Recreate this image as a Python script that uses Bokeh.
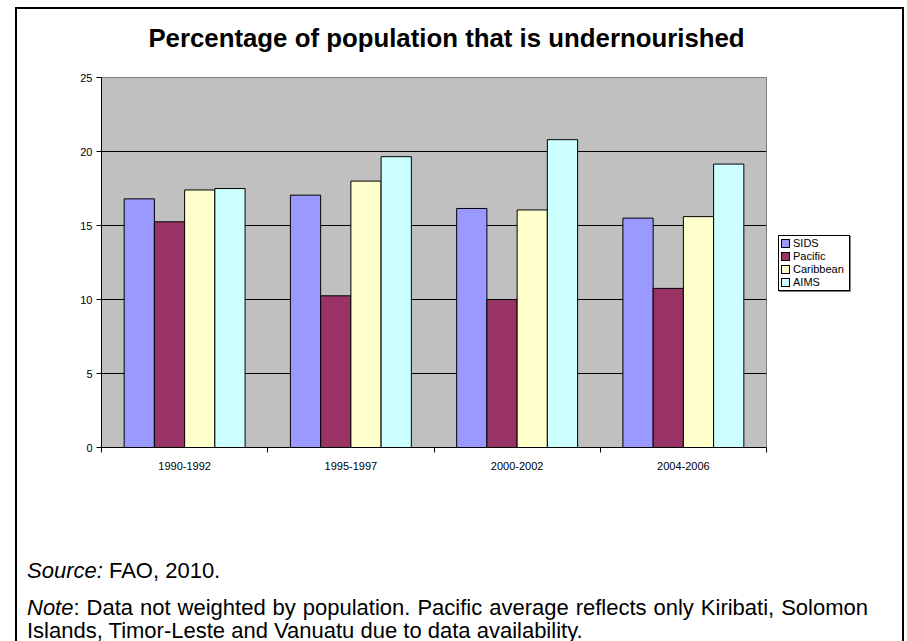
import numpy as np
from bokeh.plotting import figure
from bokeh.layouts import column, row
from bokeh.models import (ColumnDataSource, Range1d, FixedTicker, Div)
from bokeh.transform import dodge
from bokeh.embed import file_html
from bokeh.resources import INLINE

# ---- data ----
periods = ["1990-1992", "1995-1997", "2000-2002", "2004-2006"]
series = ["SIDS", "Pacific", "Caribbean", "AIMS"]
sids = [16.8, 17.05, 16.15, 15.5]
pacific = [15.25, 10.25, 10.0, 10.75]
caribbean = [17.4, 18.0, 16.05, 15.6]
aims = [17.5, 19.65, 20.8, 19.15]
colors = ["#9999FF", "#993366", "#FFFFCC", "#CCFFFF"]
y_ticks = [0, 5, 10, 15, 20, 25]

title_text = "Percentage of population that is undernourished"
source_italic = "Source:"
source_rest = "FAO, 2010."
note_italic = "Note"
note_rest = (": Data not weighted by population. Pacific average reflects only Kiribati, "
             "Solomon Islands, Timor-Leste and Vanuatu due to data availability.")

FONT = "Liberation Sans"
W = 889
PW = 752

centers = list(np.arange(len(periods)) + 0.5)
bounds = list(np.arange(len(periods) + 1))
src = ColumnDataSource(dict(x=centers, SIDS=sids, Pacific=pacific,
                            Caribbean=caribbean, AIMS=aims))

# ---- title ----
title_div = Div(
    text=(f'<div style="width:863px;text-align:center;padding-top:19px;'
          f"font-family:'{FONT}';font-weight:bold;font-size:25.8px;line-height:25px;"
          f'white-space:nowrap;color:black">{title_text}</div>'),
    width=W, height=62, margin=0)

# ---- chart ----
p = figure(width=PW, height=408, output_backend="svg", toolbar_location=None,
           x_range=Range1d(0, len(periods)), y_range=Range1d(0, 25),
           min_border_left=86, min_border_right=1, min_border_top=8,
           min_border_bottom=30, margin=0)
p.background_fill_color = "#C0C0C0"
p.border_fill_alpha = 0
p.outline_line_color = "#808080"
p.outline_line_width = 1

w = 1 / 5.5
offsets = [-1.5 * w, -0.5 * w, 0.5 * w, 1.5 * w]
for name, col, off in zip(series, colors, offsets):
    p.vbar(x=dodge("x", off, range=p.x_range), top=name, width=w, source=src,
           fill_color=col, line_color="black", line_width=1)

p.xgrid.visible = False
p.ygrid.ticker = FixedTicker(ticks=[t for t in y_ticks if 0 < t < 25])
p.ygrid.grid_line_color = "black"
p.ygrid.grid_line_width = 1

p.yaxis.ticker = FixedTicker(ticks=y_ticks)
p.yaxis.major_tick_out = 5
p.yaxis.major_tick_in = 0
p.yaxis.minor_tick_line_color = None
p.yaxis.axis_line_color = "black"
p.yaxis.major_label_text_font = FONT
p.yaxis.major_label_text_font_size = "11px"
p.yaxis.major_label_text_color = "black"
p.yaxis.major_label_standoff = 4

p.xaxis.ticker = FixedTicker(ticks=centers, minor_ticks=bounds)
p.xaxis.major_label_overrides = {c: lab for c, lab in zip(centers, periods)}
p.xaxis.major_tick_out = 0
p.xaxis.major_tick_in = 0
p.xaxis.minor_tick_out = 5
p.xaxis.minor_tick_in = 0
p.xaxis.minor_tick_line_color = "black"
p.xaxis.axis_line_color = "black"
p.xaxis.major_label_text_font = FONT
p.xaxis.major_label_text_font_size = "11px"
p.xaxis.major_label_text_color = "black"
p.xaxis.major_label_standoff = 9

# ---- legend (HTML, built from series / colors) ----
legend_rows = "".join(
    f'<div style="height:13px;display:flex;align-items:center;white-space:nowrap">'
    f'<span style="display:inline-block;width:7px;height:7px;border:1px solid black;'
    f'background:{c};margin-right:3px;box-sizing:content-box"></span>{s}</div>'
    for s, c in zip(series, colors))
legend_div = Div(
    text=(f'<div style="margin-left:11px;margin-top:166px;display:inline-block;'
          f'border:1px solid black;background:white;padding:1px 5px 1px 2px;'
          f"font-family:'{FONT}';font-size:11px;line-height:13px;color:black;"
          f'box-shadow:1px 1px 0 0 #808080">{legend_rows}</div>'),
    width=W - PW, height=408, margin=0)

# ---- source / note ----
notes_div = Div(
    text=(f"<div style=\"padding-left:12px;padding-top:82px;font-family:'{FONT}';"
          f'font-size:22px;line-height:23px;color:black">'
          f'<div style="white-space:nowrap"><i>{source_italic}</i> {source_rest}</div>'
          f'<div style="margin-top:14px;width:841px;text-align:justify">'
          f'<i>{note_italic}</i>{note_rest}</div></div>'),
    width=W, height=164, margin=0)

layout = column(title_div, row(p, legend_div, spacing=0, margin=0), notes_div,
                width=W, height=634, spacing=0)
layout.margin = (7, 0, 0, 15)
layout.styles = {"box-shadow": "inset 2px 2px 0 0 black, inset -2px 0 0 0 black"}

open("out.html", "w").write(file_html(layout, INLINE))
